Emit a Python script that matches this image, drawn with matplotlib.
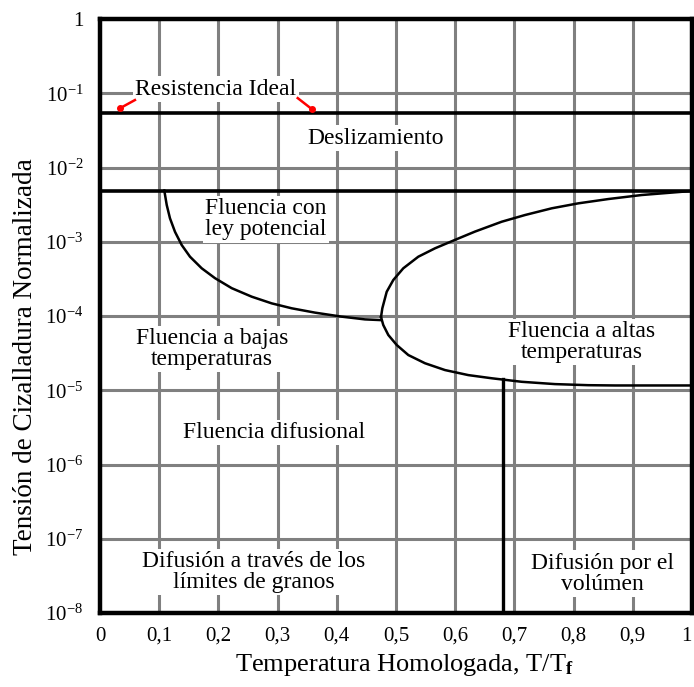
import matplotlib
matplotlib.use("Agg")
import matplotlib.pyplot as plt

# ---------------- data ----------------
x_ticks = [0, 0.1, 0.2, 0.3, 0.4, 0.5, 0.6, 0.7, 0.8, 0.9, 1.0]
x_tick_labels = ["0", "0,1", "0,2", "0,3", "0,4", "0,5", "0,6", "0,7", "0,8", "0,9", "1"]
y_exponents = [-8, -7, -6, -5, -4, -3, -2, -1, 0]
y_tick_labels = [r"$10^{-8}$", r"$10^{-7}$", r"$10^{-6}$", r"$10^{-5}$", r"$10^{-4}$",
                 r"$10^{-3}$", r"$10^{-2}$", r"$10^{-1}$", "1"]

ideal_strength = 0.054      # Resistencia ideal
glide_limit = 4.9e-3        # lower boundary of Deslizamiento

# Low-temperature creep / power-law boundary (left curve)
lowT_x = [0.1086, 0.1127, 0.1182, 0.1267, 0.1380, 0.1520, 0.1718, 0.1943, 0.2225,
          0.2563, 0.2900, 0.3238, 0.3632, 0.4083, 0.4476, 0.4750]
lowT_y = [4.9e-3, 3.13e-3, 2.07e-3, 1.36e-3, 9.04e-4, 6.29e-4, 4.39e-4, 3.23e-4, 2.37e-4,
          1.82e-4, 1.48e-4, 1.27e-4, 1.11e-4, 9.8e-5, 9.0e-5, 8.8e-5]

# High-temperature creep, upper branch (from the nose to the right edge)
htc_up_x = [0.4747, 0.4769, 0.4843, 0.4954, 0.5123, 0.5377, 0.5659, 0.5997, 0.6334,
            0.6785, 0.7179, 0.7630, 0.8079, 0.8586, 0.9150, 0.9713, 1.0]
htc_up_y = [9.7e-5, 1.27e-4, 2.12e-4, 3.05e-4, 4.39e-4, 6.29e-4, 8.16e-4, 1.06e-3, 1.37e-3,
            1.86e-3, 2.29e-3, 2.82e-3, 3.29e-3, 3.76e-3, 4.26e-3, 4.63e-3, 4.83e-3]

# High-temperature creep, lower branch (from the nose to the right edge)
htc_lo_x = [0.4747, 0.4785, 0.4870, 0.5012, 0.5208, 0.5490, 0.5828, 0.6221, 0.6617,
            0.7123, 0.7686, 0.8248, 0.8699, 1.0]
htc_lo_y = [9.7e-5, 7.56e-5, 5.55e-5, 4.07e-5, 2.98e-5, 2.31e-5, 1.87e-5, 1.60e-5, 1.45e-5,
            1.30e-5, 1.21e-5, 1.17e-5, 1.16e-5, 1.16e-5]

# Grain-boundary / volume diffusion boundary
diff_x = 0.681
diff_top = 1.42e-5

region_labels = ["Deslizamiento", "Fluencia con\nley potencial", "Fluencia a bajas\ntemperaturas",
                 "Fluencia a altas\ntemperaturas", "Fluencia difusional",
                 "Difusión a través de los\nlímites de granos", "Difusión por el\nvolúmen"]
region_pos = [(0.466, 2.49e-2), (0.280, 2.0e-3), (0.189, 3.6e-5),
              (0.814, 4.5e-5), (0.294, 2.7e-6), (0.260, 3.6e-8), (0.848, 3.4e-8)]

# ---------------- plot ----------------
plt.rcParams["font.family"] = ["Liberation Serif", "DejaVu Serif"]
plt.rcParams["mathtext.fontset"] = "custom"
plt.rcParams["mathtext.rm"] = "Liberation Serif"
plt.rcParams["mathtext.it"] = "Liberation Serif:italic"
plt.rcParams["mathtext.bf"] = "Liberation Serif:bold"

fig = plt.figure(figsize=(6.94, 6.87), dpi=100)
ax = fig.add_axes([100 / 694, 1 - 613 / 687, 592 / 694, 594 / 687])
ax.set_yscale("log")
ax.set_xlim(0, 1)
ax.set_ylim(1e-8, 1)

# grid
for xv in x_ticks[1:-1]:
    ax.axvline(xv, color="#808080", lw=2.2, zorder=1)
for e in y_exponents[1:-1]:
    ax.axhline(10.0 ** e, color="#808080", lw=2.2, zorder=1)

# boundaries
ax.axhline(ideal_strength, color="black", lw=2.6, zorder=3)
ax.axhline(glide_limit, color="black", lw=2.6, zorder=3)
ax.plot(lowT_x, lowT_y, color="black", lw=1.8, zorder=3, solid_joinstyle="round")
ax.plot(htc_up_x, htc_up_y, color="black", lw=1.8, zorder=3, solid_joinstyle="round")
ax.plot(htc_lo_x, htc_lo_y, color="black", lw=1.8, zorder=3, solid_joinstyle="round")
ax.plot([diff_x, diff_x], [1e-8, diff_top], color="black", lw=2.4, zorder=3)

for s in ax.spines.values():
    s.set_linewidth(3.2)
    s.set_zorder(5)

ax.set_xticks(x_ticks)
ax.set_xticklabels(x_tick_labels, fontsize=15)
ax.set_yticks([10.0 ** e for e in y_exponents])
ax.set_yticklabels(y_tick_labels, fontsize=15)
ax.minorticks_off()
ax.tick_params(axis="x", length=0, pad=10)
ax.tick_params(axis="y", length=0, pad=12)
ax.get_xticklabels()[-1].set_horizontalalignment("right")

ax.set_xlabel(r"Temperatura Homologada, T/T$_{\mathbf{f}}$", fontsize=19)
ax.xaxis.set_label_coords(0.514, -0.066)
ax.set_ylabel("Tensión de Cizalladura Normalizada", fontsize=19.5)
ax.yaxis.set_label_coords(-0.105, 0.431)

bb = dict(facecolor="white", edgecolor="none", pad=1.5)
for txt, (tx, ty) in zip(region_labels, region_pos):
    ax.text(tx, ty, txt, fontsize=17, ha="center", va="center",
            linespacing=1.0, bbox=bb, zorder=4)

# Resistencia Ideal label with red pointers
ax.text(0.196, 0.114, "Resistencia Ideal", fontsize=17, ha="center", va="center",
        bbox=bb, zorder=4)
for (x0, y0), (x1, y1) in [((0.059, 0.081), (0.034, 0.063)), ((0.334, 0.086), (0.358, 0.061))]:
    ax.plot([x0, x1], [y0, y1], color="red", lw=1.8, zorder=6)
    ax.plot([x1], [y1], "o", color="red", ms=4, zorder=6)

fig.savefig("out.png", dpi=100)
